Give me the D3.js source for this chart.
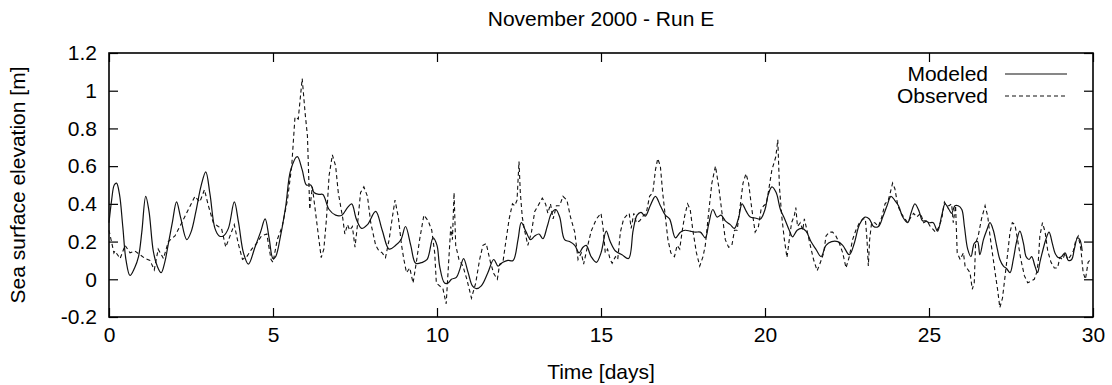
<!DOCTYPE html>
<html>
<head>
<meta charset="utf-8">
<script src="https://cdn.jsdelivr.net/npm/d3@7"></script>
<style>
  html, body { margin: 0; padding: 0; background: #fff; }
  svg { display: block; font-family: "Liberation Sans", Arial, Helvetica, sans-serif; }
</style>
</head>
<body>
<div id="chart"></div>
<script>
const title = "November 2000 - Run E";
const xLabel = "Time [days]";
const yLabel = "Sea surface elevation [m]";
const seriesNames = ["Modeled", "Observed"];
const xTicks = [0, 5, 10, 15, 20, 25, 30];
const yTicks = [-0.2, 0, 0.2, 0.4, 0.6, 0.8, 1, 1.2];

// modeled: days / metres
const modeledDays = [
  0.00, 0.08, 0.16, 0.23, 0.32, 0.42, 0.52, 0.64, 0.78, 0.90, 1.00, 1.12, 1.22, 1.35, 1.47, 1.59, 1.70, 1.80, 1.93, 2.06,
  2.18, 2.37, 2.50, 2.65, 2.80, 2.95, 3.08, 3.23, 3.36, 3.49, 3.64, 3.82, 3.95, 4.10, 4.25, 4.45, 4.62, 4.76, 4.88, 5.00,
  5.08, 5.23, 5.39, 5.54, 5.74, 5.89, 6.02, 6.15, 6.25, 6.40, 6.52, 6.71, 6.91, 7.10, 7.27, 7.40, 7.54, 7.70, 7.88, 8.13,
  8.33, 8.54, 8.74, 8.90, 9.04, 9.20, 9.35, 9.55, 9.70, 9.88, 10.00, 10.08, 10.23, 10.34, 10.44, 10.59, 10.69, 10.81, 10.95, 11.08,
  11.20, 11.35, 11.55, 11.73, 11.86, 12.01, 12.16, 12.32, 12.47, 12.57, 12.72, 12.85, 12.98, 13.11, 13.23, 13.36, 13.49, 13.62, 13.74, 13.89,
  14.04, 14.20, 14.33, 14.45, 14.55, 14.70, 14.86, 15.00, 15.16, 15.28, 15.44, 15.64, 15.84, 15.98, 16.10, 16.22, 16.35, 16.50, 16.66, 16.81,
  16.96, 17.09, 17.27, 17.42, 17.57, 17.72, 17.88, 18.03, 18.18, 18.28, 18.41, 18.54, 18.66, 18.79, 18.94, 19.07, 19.20, 19.30, 19.43, 19.55,
  19.70, 19.86, 20.00, 20.10, 20.21, 20.34, 20.47, 20.60, 20.74, 20.84, 20.98, 21.12, 21.25, 21.40, 21.55, 21.71, 21.86, 22.03, 22.22, 22.37,
  22.57, 22.72, 22.88, 23.05, 23.18, 23.31, 23.46, 23.59, 23.72, 23.84, 23.95, 24.07, 24.20, 24.35, 24.45, 24.57, 24.70, 24.80, 24.90, 25.00,
  25.13, 25.26, 25.39, 25.49, 25.61, 25.69, 25.79, 25.89, 26.00, 26.08, 26.18, 26.28, 26.38, 26.48, 26.55, 26.66, 26.76, 26.86, 26.96, 27.06,
  27.16, 27.27, 27.37, 27.47, 27.57, 27.67, 27.77, 27.88, 27.96, 28.05, 28.13, 28.23, 28.31, 28.38, 28.45, 28.56, 28.66, 28.76, 28.84, 28.94,
  29.04, 29.15, 29.25, 29.35, 29.43, 29.53, 29.60, 29.67
];
const modeledValues = [
  0.30, 0.42, 0.50, 0.51, 0.45, 0.28, 0.10, 0.02, 0.06, 0.12, 0.25, 0.44, 0.36, 0.15, 0.07, 0.035, 0.09, 0.18, 0.30, 0.41,
  0.33, 0.21, 0.25, 0.36, 0.49, 0.57, 0.45, 0.27, 0.23, 0.23, 0.27, 0.41, 0.30, 0.14, 0.08, 0.17, 0.25, 0.32, 0.22, 0.11,
  0.12, 0.23, 0.39, 0.58, 0.65, 0.58, 0.50, 0.50, 0.46, 0.45, 0.45, 0.37, 0.34, 0.34, 0.38, 0.40, 0.32, 0.27, 0.29, 0.36,
  0.26, 0.16, 0.18, 0.21, 0.28, 0.18, 0.085, 0.09, 0.105, 0.22, 0.18, 0.07, -0.02, -0.02, 0.0, 0.01, 0.05, 0.11, 0.035, -0.035,
  -0.05, -0.035, 0.035, 0.105, 0.07, 0.09, 0.10, 0.10, 0.21, 0.30, 0.25, 0.21, 0.23, 0.24, 0.215, 0.28, 0.35, 0.37, 0.33, 0.21,
  0.20, 0.18, 0.14, 0.17, 0.18, 0.12, 0.09, 0.14, 0.255, 0.20, 0.15, 0.13, 0.11, 0.26, 0.34, 0.355, 0.335, 0.39, 0.44, 0.39,
  0.34, 0.32, 0.22, 0.25, 0.26, 0.255, 0.25, 0.25, 0.22, 0.29, 0.37, 0.33, 0.34, 0.31, 0.29, 0.27, 0.33, 0.40, 0.36, 0.33,
  0.325, 0.32, 0.37, 0.45, 0.49, 0.46, 0.37, 0.32, 0.26, 0.225, 0.26, 0.27, 0.255, 0.20, 0.16, 0.12, 0.18, 0.20, 0.20, 0.18,
  0.13, 0.19, 0.29, 0.33, 0.32, 0.28, 0.28, 0.33, 0.39, 0.44, 0.42, 0.39, 0.33, 0.30, 0.35, 0.40, 0.36, 0.31, 0.31, 0.30,
  0.30, 0.255, 0.34, 0.40, 0.37, 0.35, 0.39, 0.39, 0.37, 0.28, 0.16, 0.12, 0.19, 0.20, 0.13, 0.21, 0.26, 0.30, 0.26, 0.18,
  0.105, 0.07, 0.056, 0.035, 0.105, 0.20, 0.255, 0.19, 0.12, 0.105, 0.12, 0.07, 0.035, 0.09, 0.14, 0.21, 0.25, 0.19, 0.14, 0.115,
  0.12, 0.14, 0.10, 0.105, 0.16, 0.22, 0.21, 0.15
];

// observed: days / metres
const observedDays = [
  0.00, 0.15, 0.18, 0.34, 0.49, 0.64, 0.79, 0.95, 1.10, 1.25, 1.38, 1.50, 1.66, 1.81, 2.01, 2.22, 2.42, 2.62, 2.77, 2.91,
  3.03, 3.18, 3.33, 3.43, 3.56, 3.69, 3.82, 3.94, 4.07, 4.20, 4.35, 4.50, 4.65, 4.81, 4.94, 5.00, 5.13, 5.28, 5.44, 5.57,
  5.67, 5.77, 5.89, 5.98, 6.05, 6.12, 6.20, 6.30, 6.40, 6.47, 6.55, 6.63, 6.71, 6.81, 6.91, 6.99, 7.06, 7.13, 7.19, 7.27,
  7.34, 7.42, 7.50, 7.57, 7.67, 7.77, 7.88, 7.98, 8.13, 8.23, 8.33, 8.43, 8.54, 8.64, 8.72, 8.82, 8.92, 8.99, 9.07, 9.17,
  9.27, 9.37, 9.47, 9.60, 9.73, 9.84, 9.93, 9.98, 10.08, 10.18, 10.28, 10.36, 10.42, 10.47, 10.52, 10.57, 10.67, 10.79, 10.91, 11.05,
  11.18, 11.30, 11.40, 11.50, 11.63, 11.73, 11.84, 11.91, 12.01, 12.09, 12.20, 12.30, 12.37, 12.44, 12.50, 12.54, 12.60, 12.67, 12.77, 12.88,
  12.98, 13.08, 13.21, 13.31, 13.38, 13.46, 13.54, 13.64, 13.74, 13.84, 13.96, 14.07, 14.20, 14.30, 14.40, 14.47, 14.57, 14.70, 14.86, 15.00,
  15.06, 15.13, 15.20, 15.28, 15.34, 15.44, 15.51, 15.59, 15.69, 15.79, 15.86, 15.92, 16.00, 16.08, 16.18, 16.28, 16.38, 16.48, 16.58, 16.66,
  16.73, 16.81, 16.88, 16.96, 17.04, 17.13, 17.24, 17.32, 17.40, 17.47, 17.55, 17.64, 17.72, 17.80, 17.91, 18.01, 18.11, 18.18, 18.28, 18.38,
  18.49, 18.59, 18.69, 18.79, 18.89, 18.99, 19.07, 19.15, 19.23, 19.33, 19.42, 19.50, 19.60, 19.70, 19.80, 19.88, 19.96, 20.04, 20.10, 20.21,
  20.28, 20.33, 20.39, 20.44, 20.51, 20.59, 20.67, 20.74, 20.81, 20.89, 20.94, 20.99, 21.08, 21.15, 21.20, 21.28, 21.38, 21.48, 21.59, 21.69,
  21.79, 21.86, 21.96, 22.06, 22.16, 22.27, 22.37, 22.47, 22.57, 22.67, 22.77, 22.88, 22.98, 23.06, 23.11, 23.15, 23.19, 23.25, 23.35, 23.46,
  23.56, 23.66, 23.76, 23.82, 23.89, 23.96, 24.05, 24.15, 24.27, 24.35, 24.45, 24.53, 24.63, 24.74, 24.84, 24.94, 25.04, 25.10, 25.20, 25.28,
  25.39, 25.47, 25.54, 25.61, 25.69, 25.74, 25.81, 25.86, 25.95, 26.05, 26.10, 26.18, 26.25, 26.32, 26.38, 26.42, 26.50, 26.60, 26.71, 26.79,
  26.86, 26.96, 27.03, 27.09, 27.16, 27.24, 27.32, 27.40, 27.47, 27.54, 27.62, 27.70, 27.80, 27.91, 28.01, 28.11, 28.21, 28.28, 28.33, 28.38,
  28.46, 28.54, 28.62, 28.72, 28.82, 28.92, 28.99, 29.08, 29.15, 29.23, 29.30, 29.40, 29.48, 29.55, 29.63, 29.70, 29.77, 29.85, 29.90
];
const observedValues = [
  0.26, 0.14, 0.15, 0.11, 0.18, 0.14, 0.15, 0.13, 0.11, 0.10, 0.05, 0.16, 0.11, 0.20, 0.23, 0.30, 0.37, 0.44, 0.41, 0.475,
  0.39, 0.30, 0.28, 0.27, 0.17, 0.23, 0.29, 0.19, 0.105, 0.12, 0.16, 0.19, 0.23, 0.24, 0.105, 0.09, 0.21, 0.28, 0.42, 0.60,
  0.86, 0.85, 1.065, 0.88, 0.76, 0.37, 0.49, 0.35, 0.21, 0.115, 0.16, 0.32, 0.55, 0.66, 0.60, 0.46, 0.39, 0.32, 0.24, 0.29,
  0.26, 0.28, 0.17, 0.28, 0.46, 0.49, 0.44, 0.30, 0.18, 0.15, 0.14, 0.115, 0.21, 0.33, 0.42, 0.33, 0.18, 0.105, 0.035, 0.06,
  -0.02, 0.09, 0.21, 0.34, 0.31, 0.26, 0.14, -0.02, -0.035, -0.05, -0.13, 0.105, 0.28, 0.21, 0.46, 0.18, 0.105, 0.07, 0.0, -0.10,
  -0.02, 0.105, 0.18, 0.19, 0.09, 0.03, 0.0, 0.08, 0.09, 0.19, 0.32, 0.40, 0.39, 0.42, 0.625, 0.46, 0.33, 0.26, 0.18, 0.25,
  0.36, 0.39, 0.43, 0.40, 0.35, 0.40, 0.32, 0.39, 0.39, 0.44, 0.42, 0.33, 0.25, 0.105, 0.14, 0.08, 0.16, 0.255, 0.32, 0.35,
  0.28, 0.14, 0.16, 0.105, 0.085, 0.12, 0.105, 0.25, 0.32, 0.34, 0.35, 0.27, 0.35, 0.30, 0.31, 0.335, 0.35, 0.44, 0.46, 0.58,
  0.64, 0.60, 0.46, 0.335, 0.21, 0.14, 0.12, 0.18, 0.16, 0.25, 0.335, 0.40, 0.37, 0.26, 0.14, 0.07, 0.12, 0.18, 0.35, 0.51,
  0.60, 0.49, 0.35, 0.21, 0.17, 0.18, 0.26, 0.26, 0.37, 0.51, 0.56, 0.51, 0.37, 0.25, 0.28, 0.37, 0.39, 0.40, 0.46, 0.58,
  0.62, 0.65, 0.74, 0.49, 0.335, 0.21, 0.115, 0.21, 0.30, 0.335, 0.38, 0.28, 0.30, 0.26, 0.32, 0.26, 0.18, 0.105, 0.045, 0.09,
  0.14, 0.23, 0.25, 0.25, 0.23, 0.19, 0.14, 0.06, 0.12, 0.21, 0.26, 0.30, 0.32, 0.32, 0.21, 0.07, 0.21, 0.30, 0.30, 0.28,
  0.33, 0.40, 0.42, 0.46, 0.51, 0.48, 0.39, 0.35, 0.32, 0.30, 0.33, 0.35, 0.33, 0.35, 0.30, 0.31, 0.28, 0.27, 0.25, 0.27,
  0.32, 0.41, 0.39, 0.39, 0.40, 0.30, 0.39, 0.14, 0.105, 0.14, 0.07, 0.053, 0.035, -0.053, -0.018, 0.19, 0.23, 0.32, 0.39, 0.335,
  0.23, 0.105, 0.018, -0.053, -0.15, -0.10, 0.018, 0.14, 0.25, 0.30, 0.29, 0.21, 0.105, 0.018, -0.018, -0.01, 0.0, 0.035, 0.09, 0.23,
  0.30, 0.25, 0.15, 0.09, 0.06, 0.06, 0.115, 0.105, 0.14, 0.105, 0.12, 0.15, 0.21, 0.23, 0.16, 0.035, 0.0, 0.09, 0.10
];

////////////////////////////////////////////////////////////////////////////////////

const width = 1112;
const height = 385;
const margin = { top: 53, right: 19, bottom: 68, left: 109 };
const fontSize = "21px";

d3.select("#chart").selectAll("*").remove();

const svg = d3
  .select("#chart")
  .append("svg")
  .attr("width", width)
  .attr("height", height);

const x = d3.scaleLinear().domain([0, 30]).range([margin.left, width - margin.right]);
const y = d3.scaleLinear().domain([-0.2, 1.2]).range([height - margin.bottom, margin.top]);

const fmt = (d) => String(+d.toFixed(1));

////////////////////////////////////////////////////////////////////////////////////

function styleAxis(g) {
  g.select(".domain").remove();
  g.selectAll(".tick line").attr("stroke", "#000").attr("stroke-width", 1.2);
  g.selectAll(".tick text").attr("fill", "#000").style("font-size", fontSize);
}

svg
  .append("g")
  .attr("transform", `translate(0,${y(-0.2)})`)
  .call(d3.axisBottom(x).tickValues(xTicks).tickSize(-9).tickPadding(10).tickFormat(fmt))
  .call(styleAxis);

svg
  .append("g")
  .attr("transform", `translate(0,${y(1.2)})`)
  .call(d3.axisTop(x).tickValues(xTicks).tickSize(-9).tickFormat(""))
  .call(styleAxis);

svg
  .append("g")
  .attr("transform", `translate(${x(0)},0)`)
  .call(d3.axisLeft(y).tickValues(yTicks).tickSize(-9).tickPadding(12).tickFormat(fmt))
  .call(styleAxis);

svg
  .append("g")
  .attr("transform", `translate(${x(30)},0)`)
  .call(d3.axisRight(y).tickValues(yTicks).tickSize(-9).tickFormat(""))
  .call(styleAxis);

// frame
svg
  .append("rect")
  .attr("x", x(0))
  .attr("y", y(1.2))
  .attr("width", x(30) - x(0))
  .attr("height", y(-0.2) - y(1.2))
  .attr("fill", "none")
  .attr("stroke", "#000")
  .attr("stroke-width", 1.6);

////////////////////////////////////////////////////////////////////////////////////

const modeled = modeledDays.map((d, i) => ({ t: d, v: modeledValues[i] }));
const observed = observedDays.map((d, i) => ({ t: d, v: observedValues[i] }));

const smoothLine = d3
  .line()
  .x((d) => x(d.t))
  .y((d) => y(d.v))
  .curve(d3.curveCatmullRom.alpha(0.5));

const rawLine = d3
  .line()
  .x((d) => x(d.t))
  .y((d) => y(d.v));

svg
  .append("path")
  .datum(observed)
  .attr("d", rawLine)
  .attr("fill", "none")
  .attr("stroke", "#111")
  .attr("stroke-width", 1.1)
  .attr("stroke-dasharray", "4,3");

svg
  .append("path")
  .datum(modeled)
  .attr("d", smoothLine)
  .attr("fill", "none")
  .attr("stroke", "#111")
  .attr("stroke-width", 1.2);

////////////////////////////////////////////////////////////////////////////////////

// legend
const legend = svg.append("g").attr("class", "legend");
const legendRows = [
  { name: seriesNames[0], dash: null, yy: 74 },
  { name: seriesNames[1], dash: "4,3", yy: 96 }
];

legendRows.forEach((r) => {
  legend
    .append("text")
    .attr("x", 988)
    .attr("y", r.yy + 7)
    .attr("text-anchor", "end")
    .style("font-size", fontSize)
    .text(r.name);

  legend
    .append("line")
    .attr("x1", 1005)
    .attr("x2", 1067)
    .attr("y1", r.yy)
    .attr("y2", r.yy)
    .attr("stroke", "#111")
    .attr("stroke-width", 1.1)
    .attr("stroke-dasharray", r.dash);
});

// labels
svg
  .append("text")
  .attr("x", (x(0) + x(30)) / 2)
  .attr("y", 26)
  .attr("text-anchor", "middle")
  .style("font-size", fontSize)
  .text(title);

svg
  .append("text")
  .attr("x", (x(0) + x(30)) / 2)
  .attr("y", 379)
  .attr("text-anchor", "middle")
  .style("font-size", fontSize)
  .text(xLabel);

svg
  .append("text")
  .attr("transform", `translate(25,${(y(-0.2) + y(1.2)) / 2}) rotate(-90)`)
  .attr("text-anchor", "middle")
  .style("font-size", fontSize)
  .text(yLabel);
</script>
</body>
</html>
